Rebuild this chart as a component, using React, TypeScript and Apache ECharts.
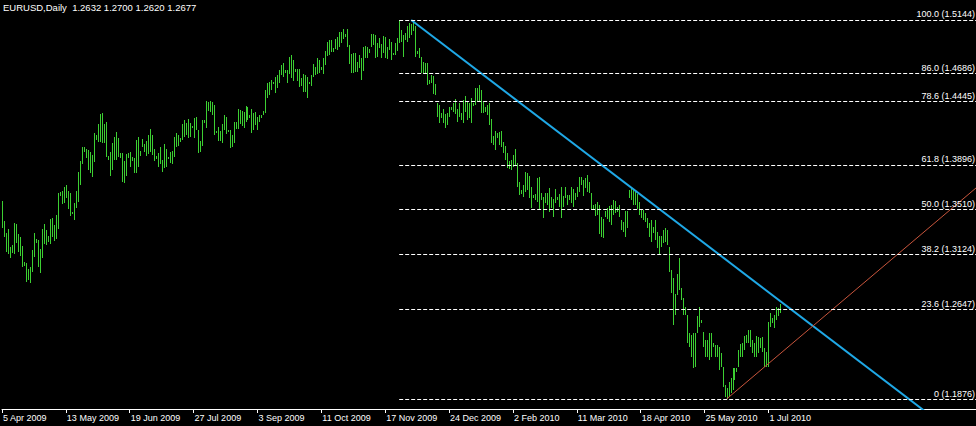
import React, { useEffect, useRef } from "react";
import * as echarts from "echarts";

// ---- data ----
const symbol = "EURUSD";
const timeframe = "Daily";
const lastBarOHLC = [1.2632, 1.27, 1.262, 1.2677];

const highs = [
  1.3583,1.3411,1.3307,1.3342,1.3187,1.3204,1.3394,1.3385,1.3299,1.3273,
  1.3195,1.3058,1.3049,1.2997,1.3015,1.3161,1.3307,1.3255,1.3247,1.3169,
  1.3342,1.3385,1.3333,1.3282,1.3429,1.3437,1.3377,1.3463,1.3652,1.3661,
  1.3669,1.3704,1.3721,1.3669,1.3652,1.3489,1.3566,1.3669,1.3834,1.3928,
  1.4049,1.4049,1.4032,1.4023,1.4006,1.3980,1.4169,1.4152,1.4247,1.4333,
  1.4342,1.4247,1.4265,1.3971,1.4006,1.4083,1.4135,1.4178,1.4126,1.3997,
  1.3997,1.3928,1.3989,1.3997,1.4006,1.3963,1.3954,1.4109,1.4135,1.4014,
  1.4118,1.4075,1.4101,1.4152,1.4204,1.4152,1.4032,1.3971,1.3997,1.4049,
  1.3937,1.4075,1.4032,1.3963,1.4006,1.4014,1.4135,1.4169,1.4152,1.4126,
  1.4247,1.4282,1.4256,1.4290,1.4256,1.4230,1.4299,1.4307,1.4195,1.4101,
  1.4282,1.4282,1.4445,1.4437,1.4445,1.4437,1.4411,1.4187,1.4221,1.4187,
  1.4247,1.4325,1.4307,1.4195,1.4195,1.4152,1.4265,1.4265,1.4376,1.4368,
  1.4359,1.4351,1.4402,1.4394,1.4325,1.4376,1.4342,1.4351,1.4307,1.4325,
  1.4325,1.4359,1.4540,1.4600,1.4609,1.4626,1.4609,1.4652,1.4670,1.4713,
  1.4756,1.4773,1.4713,1.4713,1.4825,1.4842,1.4799,1.4721,1.4721,1.4721,
  1.4644,1.4678,1.4670,1.4652,1.4609,1.4670,1.4764,1.4738,1.4816,1.4799,
  1.4738,1.4816,1.4876,1.4954,1.4971,1.4971,1.4902,1.4980,1.4997,1.5040,
  1.5040,1.5066,1.5023,1.5066,1.4928,1.4851,1.4859,1.4859,1.4782,1.4842,
  1.4816,1.4911,1.4919,1.4911,1.4894,1.5023,1.5023,1.5014,1.4945,1.4988,
  1.4937,1.5006,1.4997,1.4911,1.4980,1.4954,1.4859,1.4945,1.4988,1.5144,
  1.5057,1.5014,1.5031,1.5092,1.5118,1.5109,1.5140,1.5092,1.4876,1.4902,
  1.4825,1.4782,1.4773,1.4773,1.4626,1.4670,1.4661,1.4592,1.4428,1.4411,
  1.4342,1.4376,1.4333,1.4342,1.4394,1.4394,1.4428,1.4463,1.4376,1.4428,
  1.4342,1.4454,1.4489,1.4445,1.4428,1.4471,1.4428,1.4557,1.4557,1.4583,
  1.4540,1.4437,1.4394,1.4411,1.4428,1.4290,1.4144,1.4187,1.4169,1.4178,
  1.4187,1.4092,1.4058,1.3997,1.3928,1.3937,1.3980,1.4032,1.3911,1.3747,
  1.3678,1.3721,1.3834,1.3825,1.3799,1.3704,1.3635,1.3644,1.3782,1.3790,
  1.3652,1.3618,1.3652,1.3652,1.3695,1.3618,1.3601,1.3687,1.3618,1.3644,
  1.3704,1.3627,1.3704,1.3635,1.3635,1.3704,1.3687,1.3652,1.3704,1.3790,
  1.3790,1.3764,1.3782,1.3808,1.3747,1.3652,1.3549,1.3558,1.3575,1.3549,
  1.3446,1.3429,1.3498,1.3523,1.3540,1.3549,1.3592,1.3583,1.3532,1.3549,
  1.3420,1.3403,1.3498,1.3498,1.3678,1.3695,1.3678,1.3661,1.3644,1.3575,
  1.3506,1.3506,1.3480,1.3437,1.3394,1.3420,1.3359,1.3420,1.3316,1.3282,
  1.3282,1.3333,1.3351,1.3333,1.3187,1.2989,1.2920,1.2782,1.2954,1.3092,
  1.2833,1.2747,1.2670,1.2601,1.2445,1.2428,1.2445,1.2445,1.2592,1.2670,
  1.2558,1.2454,1.2385,1.2385,1.2445,1.2445,1.2359,1.2342,1.2342,1.2325,
  1.2273,1.2152,1.1997,1.1971,1.2023,1.2058,1.2144,1.2144,1.2144,1.2299,
  1.2351,1.2359,1.2420,1.2428,1.2471,1.2471,1.2385,1.2359,1.2420,1.2411,
  1.2402,1.2411,1.2316,1.2282,1.2540,1.2618,1.2575,1.2601,1.2670,1.2661,
  1.2700,
];

const lows = [
  1.3351,1.3273,1.3144,1.3126,1.3092,1.3135,1.3126,1.3221,1.3144,1.3109,
  1.3015,1.3023,1.2885,1.2902,1.2876,1.2972,1.3101,1.3221,1.3015,1.2963,
  1.3092,1.3213,1.3204,1.3230,1.3213,1.3273,1.3239,1.3256,1.3342,1.3627,
  1.3557,1.3566,1.3609,1.3515,1.3454,1.3480,1.3420,1.3523,1.3575,1.3721,
  1.3902,1.4006,1.3954,1.3851,1.3825,1.3790,1.3920,1.4109,1.4092,1.4092,
  1.4083,1.4083,1.3963,1.3937,1.3799,1.3851,1.3937,1.3937,1.3963,1.3954,
  1.3747,1.3738,1.3799,1.3954,1.3877,1.3928,1.3825,1.3825,1.3877,1.3971,
  1.4049,1.4006,1.3971,1.3989,1.4006,1.3980,1.3928,1.3946,1.3877,1.3902,
  1.3834,1.3868,1.3877,1.3946,1.3911,1.3902,1.3963,1.4049,1.4058,1.4092,
  1.4109,1.4135,1.4152,1.4126,1.4135,1.4213,1.4126,1.4195,1.3997,1.4006,
  1.4058,1.4256,1.4213,1.4359,1.4351,1.4325,1.4152,1.4169,1.4101,1.4101,
  1.4083,1.4195,1.4161,1.4178,1.4040,1.4049,1.4083,1.4204,1.4204,1.4247,
  1.4230,1.4213,1.4265,1.4282,1.4299,1.4169,1.4195,1.4238,1.4195,1.4265,
  1.4299,1.4325,1.4342,1.4471,1.4497,1.4540,1.4592,1.4514,1.4557,1.4600,
  1.4670,1.4652,1.4687,1.4600,1.4678,1.4644,1.4618,1.4695,1.4618,1.4566,
  1.4575,1.4523,1.4523,1.4471,1.4600,1.4575,1.4652,1.4670,1.4678,1.4687,
  1.4713,1.4678,1.4756,1.4833,1.4842,1.4868,1.4868,1.4894,1.4885,1.4911,
  1.4945,1.4980,1.4997,1.4911,1.4764,1.4687,1.4687,1.4695,1.4695,1.4730,
  1.4626,1.4704,1.4816,1.4816,1.4859,1.4911,1.4928,1.4816,1.4825,1.4902,
  1.4816,1.4859,1.4816,1.4807,1.4885,1.4799,1.4842,1.4842,1.4876,1.4945,
  1.4954,1.4825,1.4971,1.4954,1.4988,1.5014,1.5049,1.4825,1.4851,1.4816,
  1.4687,1.4678,1.4687,1.4583,1.4592,1.4600,1.4506,1.4497,1.4307,1.4256,
  1.4299,1.4256,1.4213,1.4238,1.4307,1.4368,1.4351,1.4333,1.4265,1.4307,
  1.4282,1.4256,1.4351,1.4282,1.4299,1.4256,1.4402,1.4411,1.4437,1.4437,
  1.4342,1.4342,1.4351,1.4325,1.4238,1.4083,1.4066,1.4023,1.4126,1.4066,
  1.4049,1.3997,1.3937,1.3868,1.3860,1.3851,1.3877,1.3894,1.3704,1.3635,
  1.3644,1.3618,1.3661,1.3678,1.3609,1.3523,1.3609,1.3592,1.3575,1.3506,
  1.3592,1.3437,1.3566,1.3549,1.3489,1.3523,1.3446,1.3566,1.3592,1.3532,
  1.3437,1.3532,1.3609,1.3549,1.3592,1.3566,1.3532,1.3592,1.3618,1.3661,
  1.3721,1.3627,1.3695,1.3661,1.3652,1.3506,1.3506,1.3454,1.3463,1.3299,
  1.3273,1.3265,1.3446,1.3429,1.3403,1.3377,1.3463,1.3480,1.3489,1.3446,
  1.3333,1.3316,1.3273,1.3351,1.3609,1.3592,1.3549,1.3549,1.3515,1.3463,
  1.3437,1.3420,1.3403,1.3351,1.3273,1.3230,1.3307,1.3247,1.3178,1.3118,
  1.3187,1.3221,1.3230,1.3204,1.2972,1.2790,1.2514,1.2601,1.2773,1.2816,
  1.2730,1.2601,1.2601,1.2359,1.2325,1.2239,1.2144,1.2152,1.2445,1.2497,
  1.2532,1.2325,1.2239,1.2239,1.2213,1.2239,1.2325,1.2239,1.2239,1.2127,
  1.2152,1.1980,1.1894,1.1876,1.1894,1.1928,1.1954,1.2040,1.2109,1.2152,
  1.2239,1.2239,1.2299,1.2359,1.2359,1.2325,1.2273,1.2239,1.2239,1.2273,
  1.2316,1.2282,1.2152,1.2152,1.2152,1.2497,1.2532,1.2489,1.2558,1.2592,
  1.2620,
];

const tickLabels = [
  "5 Apr 2009", "13 May 2009", "19 Jun 2009", "27 Jul 2009", "3 Sep 2009",
  "11 Oct 2009", "17 Nov 2009", "24 Dec 2009", "2 Feb 2010", "11 Mar 2010",
  "18 Apr 2010", "25 May 2010", "1 Jul 2010",
];
const tickStep = 32; // bars between date labels

const fibRatios = ["100.0", "86.0", "78.6", "61.8", "50.0", "38.2", "23.6", "0"];
const fibPrices = [1.5144, 1.4686, 1.4445, 1.3896, 1.351, 1.3124, 1.2647, 1.1876];
const fibStartBar = 199;

const blueTrend = [[205, 1.5144], [480, 1.1541]];
const redTrend = [[363, 1.1876], [488, 1.3696]];

const xMax = 488;
const yMin = 1.179055;
const yMax = 1.531641;

// ---- styles ----
const BAR_COLOR = "#3ccf32";
const BLUE = "#1fa8e6";
const RED = "#c8553c";
const FONT = "Liberation Sans";

export default function App() {
  const ref = useRef<HTMLDivElement>(null);
  useEffect(() => {
    if (!ref.current) return;
    const chart = echarts.init(ref.current, null, { renderer: "svg" });
    const barData = highs.map((h, i) => [i, lows[i], h]);
    const tickValues = tickLabels.map((_, k) => k * tickStep);
    chart.setOption({
      animation: false,
      backgroundColor: "#000000",
      title: {
        text: `${symbol},${timeframe}  ${lastBarOHLC.map((v) => v.toFixed(4)).join(" ")}`,
        left: 3,
        top: 2,
        padding: 0,
        textStyle: { color: "#ffffff", fontSize: 9.5, fontWeight: "normal", fontFamily: FONT },
      },
      grid: { left: 0, right: 0, top: 0, bottom: 17 },
      xAxis: {
        type: "value",
        min: 0,
        max: xMax,
        splitLine: { show: false },
        axisLine: { show: true, onZero: false, lineStyle: { color: "#ffffff", width: 1 } },
        axisTick: { show: true, customValues: tickValues, length: 4, lineStyle: { color: "#ffffff" } },
        axisLabel: {
          customValues: tickValues,
          formatter: (v: number) => tickLabels[Math.round(v / tickStep)] ?? "",
          align: "left",
          margin: 4,
          padding: [0, 0, 0, 1],
          color: "#ffffff",
          fontSize: 9,
          fontFamily: FONT,
          showMinLabel: true,
          showMaxLabel: true,
          hideOverlap: false,
        },
      },
      yAxis: { type: "value", min: yMin, max: yMax, show: false, splitLine: { show: false } },
      series: [
        {
          type: "custom",
          data: barData,
          encode: { x: 0, y: [1, 2] },
          clip: true,
          silent: true,
          emphasis: { disabled: true },
          renderItem: (_p: any, api: any) => {
            const i = api.value(0);
            const top = api.coord([i, api.value(2)]);
            const bot = api.coord([i, api.value(1)]);
            const x = Math.round(top[0]);
            const y1 = Math.round(top[1]);
            let y2 = Math.round(bot[1]);
            if (y2 - y1 < 2) y2 = y1 + 2;
            return {
              type: "rect",
              shape: { x, y: y1, width: 1, height: y2 - y1 },
              style: { fill: BAR_COLOR, stroke: null, opacity: 1 },
            };
          },
        },
        {
          type: "line",
          data: [],
          silent: true,
          markLine: {
            silent: true,
            symbol: ["none", "none"],
            lineStyle: { color: "#ffffff", type: [4, 2], width: 1 },
            label: {
              show: true,
              position: "insideEndTop",
              color: "#ffffff",
              fontSize: 9,
              fontFamily: FONT,
              distance: [1, 1],
            },
            data: fibPrices.map((p, k) => [
              {
                coord: [fibStartBar, p],
                label: { formatter: `${fibRatios[k]} (${p.toFixed(4)})` },
              },
              { coord: [xMax, p] },
            ]),
          },
        },
        {
          type: "line",
          data: blueTrend,
          showSymbol: false,
          silent: true,
          clip: true,
          lineStyle: { color: BLUE, width: 2 },
        },
        {
          type: "line",
          data: redTrend,
          showSymbol: false,
          silent: true,
          clip: true,
          lineStyle: { color: RED, width: 1 },
        },
      ],
    });
    return () => chart.dispose();
  }, []);
  return (
    <div
      ref={ref}
      style={{ position: "fixed", left: 0, top: 0, width: 976, height: 426, background: "#000" }}
    />
  );
}
